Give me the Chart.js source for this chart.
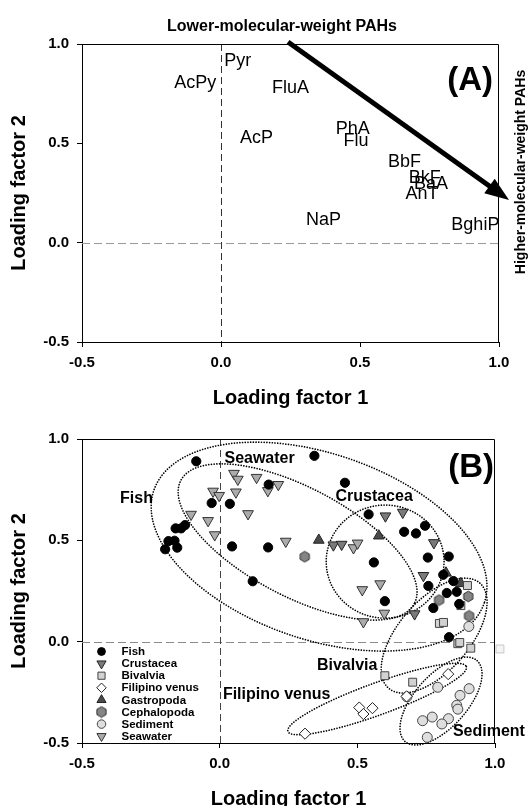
<!DOCTYPE html>
<html><head><meta charset="utf-8">
<script src="https://cdn.jsdelivr.net/npm/chart.js@4/dist/chart.umd.min.js"></script>
<style>
html,body{margin:0;padding:0;background:#fff;overflow:hidden;width:529px;height:806px;}
#c1{position:absolute;left:0;top:0;}
#c2{position:absolute;left:0;top:420px;}
</style></head><body>
<canvas id="c1" width="529" height="420"></canvas>
<canvas id="c2" width="529" height="400"></canvas>
<script>
// ---------- shared ----------
const FONT = "'Liberation Sans', Arial, Helvetica, sans-serif";
const axisMin = -0.5, axisMax = 1.0, axisStep = 0.5;
const xAxisTitle = 'Loading factor 1';
const yAxisTitle = 'Loading factor 2';

// ---------- Panel A: PAH loadings ----------
const pahNames   = ['Pyr','AcPy','FluA','AcP','PhA','Flu','BbF','BkF','BaA','AnT','NaP','BghiP'];
const pahFactor1 = [0.060,-0.093,0.250,0.128,0.474,0.486,0.660,0.733,0.755,0.723,0.369,0.915];
const pahFactor2 = [0.916,0.806,0.780,0.526,0.572,0.512,0.406,0.325,0.295,0.245,0.115,0.090];
const arrowFrom = [0.241, 1.010];
const arrowTo   = [1.036, 0.215];
const panelATop = 'Lower-molecular-weight PAHs';
const panelARight = 'Higher-molecular-weight PAHs';

// ---------- Panel B: sample scores ----------
const groupNames = ['Fish','Crustacea','Bivalvia','Filipino venus','Gastropoda','Cephalopoda','Sediment','Seawater'];
const fishF1 = [-0.085,0.344,0.178,0.455,-0.029,0.037,-0.126,-0.140,-0.160,-0.186,-0.164,-0.198,-0.154,0.045,0.176,0.120,0.541,0.670,0.713,0.746,0.560,0.756,0.832,0.812,0.758,0.600,0.825,0.849,0.861,0.776,0.870,0.833];
const fishF2 = [0.890,0.917,0.775,0.784,0.684,0.680,0.575,0.559,0.559,0.496,0.498,0.456,0.464,0.470,0.465,0.298,0.628,0.542,0.534,0.572,0.391,0.415,0.420,0.330,0.275,0.200,0.240,0.299,0.246,0.166,0.186,0.022];
const crustF1 = [0.413,0.443,0.602,0.665,0.778,0.740,0.708];
const crustF2 = [0.477,0.480,0.620,0.638,0.488,0.326,0.137];
const bivalF1 = [0.900,0.876,0.798,0.813,0.865,0.872,0.912,1.018,0.600,0.701];
const bivalF2 = [0.277,0.178,0.090,0.095,-0.010,-0.004,-0.032,-0.036,-0.168,-0.200];
const venusF1 = [0.830,0.507,0.555,0.522,0.310,0.679];
const venusF2 = [-0.160,-0.325,-0.328,-0.357,-0.454,-0.270];
const gastF1 = [0.360,0.578,0.822,0.876];
const gastF2 = [0.501,0.522,0.339,0.287];
const cephF1 = [0.309,0.797,0.903,0.906];
const cephF2 = [0.419,0.205,0.223,0.127];
const sedF1 = [0.680,0.792,0.906,0.873,0.861,0.865,0.772,0.737,0.831,0.807,0.754,0.905];
const sedF2 = [-0.272,-0.225,-0.232,-0.265,-0.314,-0.333,-0.372,-0.390,-0.380,-0.406,-0.472,0.075];
const seaF1 = [0.052,0.066,0.134,0.213,0.175,-0.024,-0.002,0.059,0.103,-0.104,-0.042,-0.018,0.240,0.486,0.501,0.518,0.583,0.598,0.522];
const seaF2 = [0.830,0.801,0.810,0.775,0.745,0.742,0.721,0.738,0.631,0.628,0.597,0.527,0.495,0.463,0.486,0.256,0.285,0.140,0.098];

// group ellipses (centre + two semi-axis vectors, data units): Fish, Seawater, Crustacea, Bivalvia, Filipino venus, Sediment
const ellipseCX = [0.361,0.283,0.601,0.779,0.572,0.804];
const ellipseCY = [0.469,0.492,0.395,0.030,-0.283,-0.293];
const ellipseUX = [0.600,0.424,0.214,0.166,0.324,0.131];
const ellipseUY = [-0.278,-0.304,0.0,0.259,0.160,0.199];
const ellipseVX = [-0.109,-0.092,0.0,0.097,0.020,0.071];
const ellipseVY = [-0.434,-0.237,-0.279,-0.115,-0.074,-0.086];
// group labels
const groupLabelText = ['Fish','Seawater','Crustacea','Bivalvia','Filipino venus','Sediment'];
const groupLabelX = [-0.302,0.145,0.561,0.463,0.207,0.978];
const groupLabelY = [0.706,0.902,0.714,-0.120,-0.260,-0.446];

const toPts = (xs, ys) => xs.map((x, i) => ({x: x, y: ys[i]}));

// hexagon marker
function makeHex(fill){
  const c = document.createElement('canvas'); c.width = 13; c.height = 13;
  const g = c.getContext('2d');
  g.beginPath();
  for (let i = 0; i < 6; i++){
    const a = Math.PI/6 + i*Math.PI/3;
    const px = 6.5 + 5.3*Math.cos(a), py = 6.5 + 5.3*Math.sin(a);
    i ? g.lineTo(px, py) : g.moveTo(px, py);
  }
  g.closePath(); g.fillStyle = fill; g.fill(); g.lineWidth = 1; g.strokeStyle = '#333'; g.stroke();
  return c;
}
const hexImg = makeHex('#858585');

function scaleOpts(title, isX, titlePad){
  return {
    type: 'linear', min: axisMin, max: axisMax,
    ticks: {stepSize: axisStep, autoSkip: false, maxRotation: 0, color: '#000', padding: isX ? 7 : 8,
      font: {family: FONT, size: 15, weight: 'bold'}, callback: v => Number(v).toFixed(1)},
    grid: {drawOnChartArea: false, drawTicks: true, tickLength: 5, color: '#000', tickColor: '#000', tickWidth: 1},
    border: {display: true, color: '#000', width: 1},
    title: {display: true, text: title, color: '#000', font: {family: FONT, size: 20, weight: 'bold'}, padding: titlePad}
  };
}

function zeroLines(ctx, ca, xs, ys, vColor, hColor){
  ctx.save();
  ctx.beginPath(); ctx.rect(ca.left, ca.top, ca.right - ca.left, ca.bottom - ca.top); ctx.clip();
  ctx.lineWidth = 1;
  const x0 = Math.round(xs.getPixelForValue(0)) + 0.5;
  const y0 = Math.round(ys.getPixelForValue(0)) + 0.5;
  ctx.strokeStyle = hColor; ctx.setLineDash([8, 4]);
  ctx.beginPath(); ctx.moveTo(ca.left, y0); ctx.lineTo(ca.right, y0); ctx.stroke();
  ctx.strokeStyle = vColor; ctx.setLineDash([7, 4]);
  ctx.beginPath(); ctx.moveTo(x0, ca.top); ctx.lineTo(x0, ca.bottom); ctx.stroke();
  ctx.restore();
}
function boxLines(ctx, ca){
  ctx.save(); ctx.strokeStyle = '#000'; ctx.lineWidth = 1;
  ctx.beginPath();
  ctx.moveTo(Math.round(ca.left) + 0.5, Math.round(ca.top) + 0.5);
  ctx.lineTo(Math.round(ca.right) - 0.5, Math.round(ca.top) + 0.5);
  ctx.lineTo(Math.round(ca.right) - 0.5, Math.round(ca.bottom));
  ctx.stroke(); ctx.restore();
}

// ---------- Chart A ----------
const pluginA = {
  id: 'panelA',
  beforeDatasetsDraw(chart){
    const {ctx, chartArea: ca, scales: {x, y}} = chart;
    zeroLines(ctx, ca, x, y, '#333', '#9a9a9a');
  },
  afterDraw(chart){
    const {ctx, chartArea: ca, scales: {x, y}} = chart;
    boxLines(ctx, ca);
    ctx.save();
    ctx.fillStyle = '#000'; ctx.textAlign = 'center'; ctx.textBaseline = 'middle';
    ctx.font = '18px ' + FONT;
    const meta = chart.getDatasetMeta(0);
    meta.data.forEach((el, i) => { ctx.fillText(pahNames[i], el.x, el.y); });
    // arrow
    const x1 = x.getPixelForValue(arrowFrom[0]), y1 = y.getPixelForValue(arrowFrom[1]);
    const x2 = x.getPixelForValue(arrowTo[0]), y2 = y.getPixelForValue(arrowTo[1]);
    const ang = Math.atan2(y2 - y1, x2 - x1), headL = 24, headW = 9;
    const bx = x2 - headL*Math.cos(ang), by = y2 - headL*Math.sin(ang);
    ctx.strokeStyle = '#000'; ctx.lineWidth = 5; ctx.lineCap = 'butt';
    ctx.beginPath(); ctx.moveTo(x1, y1); ctx.lineTo(bx + 2*Math.cos(ang), by + 2*Math.sin(ang)); ctx.stroke();
    ctx.fillStyle = '#000';
    ctx.beginPath(); ctx.moveTo(x2, y2);
    ctx.lineTo(bx + headW*Math.sin(ang), by - headW*Math.cos(ang));
    ctx.lineTo(bx - headW*Math.sin(ang), by + headW*Math.cos(ang));
    ctx.closePath(); ctx.fill();
    // titles
    ctx.font = 'bold 16px ' + FONT; ctx.textAlign = 'center'; ctx.textBaseline = 'middle';
    ctx.fillText(panelATop, ca.left + 200, ca.top - 17);
    ctx.save();
    ctx.translate(ca.right + 22, ca.top + 128); ctx.rotate(-Math.PI/2);
    ctx.font = 'bold 14px ' + FONT; ctx.fillText(panelARight, 0, 0);
    ctx.restore();
    ctx.font = 'bold 33px ' + FONT; ctx.textAlign = 'right';
    ctx.fillText('(A)', ca.right - 6, ca.top + 37);
    ctx.restore();
  }
};

new Chart(document.getElementById('c1'), {
  type: 'scatter',
  data: {datasets: [{label: 'PAHs', data: toPts(pahFactor1, pahFactor2), pointRadius: 0, pointHoverRadius: 0}]},
  options: {
    responsive: false, animation: false, events: [],
    layout: {padding: {top: 44, right: 30, bottom: 8, left: 0}},
    plugins: {legend: {display: false}, tooltip: {enabled: false}, title: {display: false}},
    scales: {
      x: Object.assign(scaleOpts(xAxisTitle, true, {top: 0, bottom: 1.5}), {afterFit: s => { s.height = 70; }}),
      y: Object.assign(scaleOpts(yAxisTitle, false, {top: 7, bottom: 0}), {afterFit: s => { s.width = 82; }})
    }
  },
  plugins: [pluginA]
});

// ---------- Chart B ----------
const styleB = [
  {pointStyle: 'circle',   rotation: 0,   radius: 4.6, bg: '#000000', bd: '#000000'},
  {pointStyle: 'triangle', rotation: 180, radius: 6.2, bg: '#7a7a7a', bd: '#222222'},
  {pointStyle: 'rect',     rotation: 0,   radius: 5.6, bg: '#d2d2d2', bd: '#444444'},
  {pointStyle: 'rectRot',  rotation: 0,   radius: 5.6, bg: '#ffffff', bd: '#222222'},
  {pointStyle: 'triangle', rotation: 0,   radius: 6.2, bg: '#4a4a4a', bd: '#222222'},
  {pointStyle: hexImg,     rotation: 0,   radius: 5.5, bg: '#858585', bd: '#333333'},
  {pointStyle: 'circle',   rotation: 0,   radius: 5.0, bg: '#dedede', bd: '#444444'},
  {pointStyle: 'triangle', rotation: 180, radius: 6.2, bg: '#ababab', bd: '#333333'}
];
const seriesB = [toPts(fishF1, fishF2), toPts(crustF1, crustF2), toPts(bivalF1, bivalF2), toPts(venusF1, venusF2),
                 toPts(gastF1, gastF2), toPts(cephF1, cephF2), toPts(sedF1, sedF2), toPts(seaF1, seaF2)];

function legendMarker(ctx, st, cx, cy){
  const r = st.radius * 0.85;
  ctx.save(); ctx.fillStyle = st.bg; ctx.strokeStyle = st.bd; ctx.lineWidth = 1;
  if (typeof st.pointStyle !== 'string'){ ctx.drawImage(st.pointStyle, cx - 6.5, cy - 6.5); ctx.restore(); return; }
  ctx.beginPath();
  if (st.pointStyle === 'circle') ctx.arc(cx, cy, r, 0, Math.PI*2);
  else if (st.pointStyle === 'rect') ctx.rect(cx - r*0.75, cy - r*0.75, r*1.5, r*1.5);
  else if (st.pointStyle === 'rectRot'){ ctx.moveTo(cx, cy - r); ctx.lineTo(cx + r, cy); ctx.lineTo(cx, cy + r); ctx.lineTo(cx - r, cy); ctx.closePath(); }
  else if (st.pointStyle === 'triangle'){
    const s = st.rotation === 180 ? -1 : 1;
    ctx.moveTo(cx, cy - s*r); ctx.lineTo(cx + r*0.87, cy + s*r*0.5); ctx.lineTo(cx - r*0.87, cy + s*r*0.5); ctx.closePath();
  }
  ctx.fill(); ctx.stroke(); ctx.restore();
}

const pluginB = {
  id: 'panelB',
  beforeDatasetsDraw(chart){
    const {ctx, chartArea: ca, scales: {x, y}} = chart;
    zeroLines(ctx, ca, x, y, '#444', '#8a8a8a');
    ctx.save();
    ctx.strokeStyle = '#000'; ctx.lineWidth = 1.7; ctx.lineCap = 'round'; ctx.setLineDash([0.01, 2.7]);
    for (let k = 0; k < ellipseCX.length; k++){
      ctx.beginPath();
      for (let i = 0; i <= 240; i++){
        const t = i/240*2*Math.PI;
        const X = x.getPixelForValue(ellipseCX[k] + Math.cos(t)*ellipseUX[k] + Math.sin(t)*ellipseVX[k]);
        const Y = y.getPixelForValue(ellipseCY[k] + Math.cos(t)*ellipseUY[k] + Math.sin(t)*ellipseVY[k]);
        i ? ctx.lineTo(X, Y) : ctx.moveTo(X, Y);
      }
      ctx.stroke();
    }
    ctx.restore();
  },
  afterDraw(chart){
    const {ctx, chartArea: ca, scales: {x, y}} = chart;
    boxLines(ctx, ca);
    ctx.save();
    ctx.fillStyle = '#000'; ctx.textAlign = 'center'; ctx.textBaseline = 'middle';
    ctx.font = 'bold 16px ' + FONT;
    groupLabelText.forEach((t, i) => ctx.fillText(t, x.getPixelForValue(groupLabelX[i]), y.getPixelForValue(groupLabelY[i])));
    // legend
    ctx.font = 'bold 11.5px ' + FONT; ctx.textAlign = 'left';
    const lx = ca.left + 19.5, tx = ca.left + 39.5, ly0 = ca.top + 212.5, dy = 12.1;
    chart.data.datasets.forEach((ds, i) => {
      legendMarker(ctx, styleB[i], lx, ly0 + i*dy);
      ctx.fillStyle = '#000';
      ctx.fillText(ds.label, tx, ly0 + i*dy + 0.5);
    });
    ctx.font = 'bold 33px ' + FONT; ctx.textAlign = 'right';
    ctx.fillText('(B)', ca.right - 1, ca.top + 29);
    ctx.restore();
  }
};

new Chart(document.getElementById('c2'), {
  type: 'scatter',
  data: {datasets: groupNames.map((g, i) => ({
    label: g, data: seriesB[i],
    pointStyle: styleB[i].pointStyle, rotation: styleB[i].rotation, pointRadius: styleB[i].radius,
    pointHoverRadius: styleB[i].radius,
    backgroundColor: c => (c.raw && c.raw.x > axisMax) ? '#f4f4f4' : styleB[i].bg,
    borderColor: c => (c.raw && c.raw.x > axisMax) ? '#c8c8c8' : styleB[i].bd,
    pointBorderWidth: 1, clip: false
  }))},
  options: {
    responsive: false, animation: false, events: [],
    layout: {padding: {top: 19, right: 34, bottom: 7, left: 0}},
    plugins: {legend: {display: false}, tooltip: {enabled: false}, title: {display: false}},
    scales: {
      x: Object.assign(scaleOpts(xAxisTitle, true, {top: 0, bottom: 2}), {afterFit: s => { s.height = 70; }}),
      y: Object.assign(scaleOpts(yAxisTitle, false, {top: 7, bottom: 0}), {afterFit: s => { s.width = 82; }})
    }
  },
  plugins: [pluginB]
});
</script>
</body></html>
